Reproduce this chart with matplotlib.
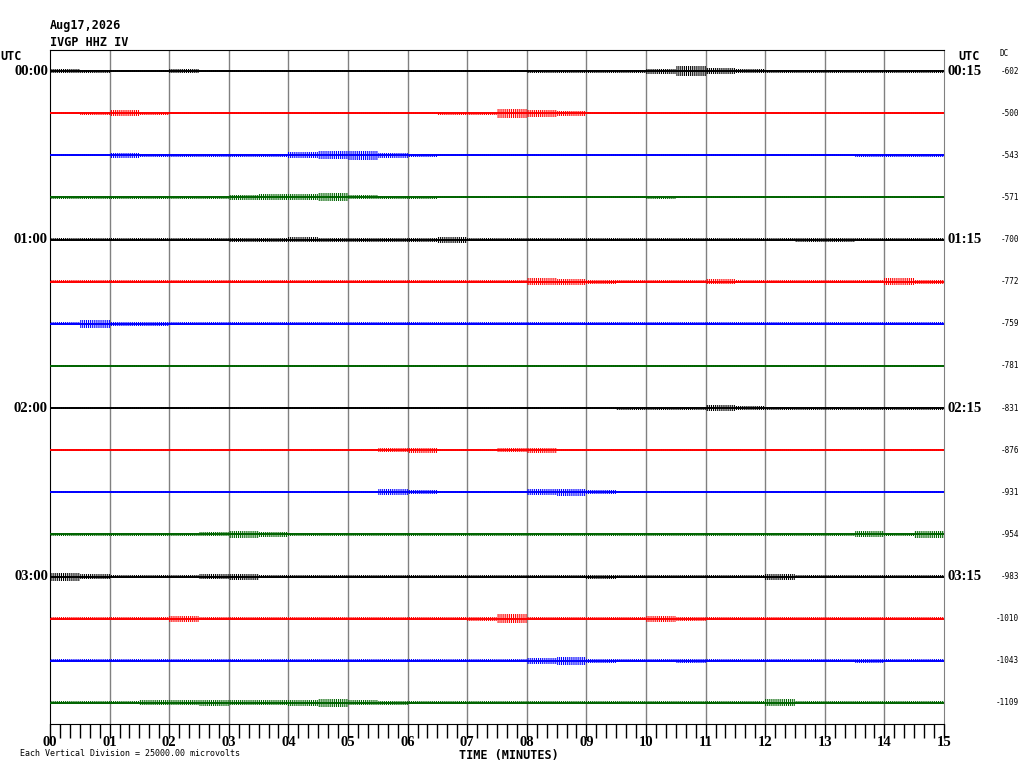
import numpy as np
from matplotlib import pyplot as plt

# station header
date_label = "Aug17,2026"
station_label = "IVGP HHZ IV"

# trace colours repeat every 4 lines (one hour = 4 x 15 min)
trace_colors = ["black", "red", "blue", "#006400"]

left_times = ["00:00", "01:00", "02:00", "03:00"]
right_times = ["00:15", "01:15", "02:15", "03:15"]

dc_values = [-602, -500, -543, -571, -700, -772, -759, -781,
             -831, -876, -931, -954, -983, -1010, -1043, -1109]

minute_labels = ["%02d" % m for m in range(16)]

# half-amplitude of each trace (pixels), one value per 30 s bin
env = [
    [2, 1.5, 1, 1, 2, 1, 1, 1, 1, 1, 1, 1, 1, 1, 1, 1, 1.5, 1.5, 1.5, 1.5, 2.5, 5, 3, 2, 1.5, 1.5, 1.5, 1.5, 1.5, 1.5],
    [1, 1.5, 3, 1.5, 1, 1, 1, 1, 1, 1, 1, 1, 1, 1.5, 1.5, 4.5, 3.5, 2.5, 1, 1, 1, 1, 1, 1, 1, 1, 1, 1, 1, 1],
    [1, 1, 2.5, 1.5, 1.5, 1.5, 1.5, 1.5, 3, 4, 4.5, 2.5, 1.5, 1, 1, 1, 1, 1, 1, 1, 1, 1, 1, 1, 1, 1, 1, 1.5, 1.5, 1.5],
    [1.5, 1.5, 1.5, 1.5, 1.5, 1.5, 2.5, 3, 3, 4, 2, 1.5, 1.5, 1, 1, 1, 1, 1, 1, 1, 1.5, 1, 1, 1, 1, 1, 1, 1, 1, 1],
    [1.5, 1.5, 1.5, 1.5, 1.5, 1.5, 2, 2, 2.5, 2, 2, 2, 2, 3, 1.5, 1.5, 1.5, 1.5, 1.5, 1.5, 1.5, 1.5, 1.5, 1.5, 1.5, 2, 2, 1.5, 1.5, 1.5],
    [1.5, 1.5, 1.5, 1.5, 1.5, 1.5, 1.5, 1.5, 1.5, 1.5, 1.5, 1.5, 1.5, 1.5, 1.5, 1.5, 3.5, 3, 2, 1.5, 1.5, 1.5, 2.5, 1.5, 1.5, 1.5, 1.5, 1.5, 3.5, 2],
    [1.5, 4, 2, 2, 1.5, 1.5, 1.5, 1.5, 1.5, 1.5, 1.5, 1.5, 1.5, 1.5, 1.5, 1.5, 1.5, 1.5, 1.5, 1.5, 1.5, 1.5, 1.5, 1.5, 1.5, 1.5, 1.5, 1.5, 1.5, 1.5],
    [1, 1, 1, 1, 1, 1, 1, 1, 1, 1, 1, 1, 1, 1, 1, 1, 1, 1, 1, 1, 1, 1, 1, 1, 1, 1, 1, 1, 1, 1],
    [1, 1, 1, 1, 1, 1, 1, 1, 1, 1, 1, 1, 1, 1, 1, 1, 1, 1, 1, 1.5, 1.5, 1.5, 3, 2, 1.5, 1.5, 1.5, 1.5, 1.5, 1.5],
    [1, 1, 1, 1, 1, 1, 1, 1, 1, 1, 1, 2, 2.5, 1, 1, 2, 2.5, 1, 1, 1, 1, 1, 1, 1, 1, 1, 1, 1, 1, 1],
    [1, 1, 1, 1, 1, 1, 1, 1, 1, 1, 1, 3, 2, 1, 1, 1, 3, 3.5, 2, 1, 1, 1, 1, 1, 1, 1, 1, 1, 1, 1],
    [1.5, 1.5, 1.5, 1.5, 1.5, 2, 3.5, 2.5, 1.5, 1.5, 1.5, 1.5, 1.5, 1.5, 1.5, 1.5, 1.5, 1.5, 1.5, 1.5, 1.5, 1.5, 1.5, 1.5, 1.5, 1.5, 1.5, 3, 1.5, 3.5],
    [4, 2.5, 1.5, 1.5, 1.5, 2.5, 3, 1.5, 1.5, 1.5, 1.5, 1.5, 1.5, 1.5, 1.5, 1.5, 1.5, 1.5, 2, 1.5, 1.5, 1.5, 1.5, 1.5, 3, 1.5, 1.5, 1.5, 1.5, 1.5],
    [1.5, 1.5, 1.5, 1.5, 3, 1.5, 1.5, 1.5, 1.5, 1.5, 1.5, 1.5, 1.5, 1.5, 2, 4.5, 1.5, 1.5, 1.5, 1.5, 3, 2, 1.5, 1.5, 1.5, 1.5, 1.5, 1.5, 1.5, 1.5],
    [1.5, 1.5, 1.5, 1.5, 1.5, 1.5, 1.5, 1.5, 1.5, 1.5, 1.5, 1.5, 1.5, 1.5, 1.5, 1.5, 3, 4, 2, 1.5, 1.5, 2, 1.5, 1.5, 1.5, 1.5, 1.5, 2, 1.5, 1.5],
    [1.5, 1.5, 1.5, 2.5, 2.5, 3, 2.5, 2.5, 3, 4, 2.5, 2, 1.5, 1.5, 1.5, 1.5, 1.5, 1.5, 1.5, 1.5, 1.5, 1.5, 1.5, 1.5, 3.5, 1.5, 1.5, 1.5, 1.5, 1.5],
]

W, H = 1024, 768
ax_l, ax_r, ax_t, ax_b = 50, 944, 50, 724
px_per_trace = (ax_b - ax_t) / 16.0

mono = "DejaVu Sans Mono"
serif = "Liberation Serif"

plt.rcParams["hatch.linewidth"] = 0.8

fig = plt.figure(figsize=(W / 100, H / 100), dpi=100)
ax = fig.add_axes([ax_l / W, 1 - ax_b / H, (ax_r - ax_l) / W, (ax_b - ax_t) / H])
ax.set_xlim(0, 15)
ax.set_ylim(15.5, -0.5)

def ftext(x, y, s, **kw):
    fig.text(x / W, 1 - y / H, s, **kw)

# minute grid
for m in range(1, 15):
    ax.axvline(m, color="#808080", lw=1, zorder=1)

# traces: base line plus a hatched envelope for the wiggles
edges = np.arange(31) * 0.5
for i, amps in enumerate(env):
    col = trace_colors[i % 4]
    a = np.array(amps + [amps[-1]]) / px_per_trace
    ax.fill_between(edges, i - a, i + a, step="post", facecolor="none",
                    edgecolor=col, hatch="||||||||", lw=0, zorder=2)
    ax.hlines(i, 0, 15, color=col, lw=1.4, zorder=3)

# frame
ax.spines["right"].set_color("#808080")
for side in ["left", "top", "bottom"]:
    ax.spines[side].set_color("black")
ax.set_yticks([])
ax.set_xticks(range(16))
ax.set_xticks(np.arange(0, 15.01, 1 / 6.0), minor=True)
ax.set_xticklabels(minute_labels, fontfamily=serif, fontweight="bold", fontsize=10.5)
ax.tick_params(axis="x", which="both", direction="out", length=10, width=1, color="black", pad=-1)

# header
ftext(50, 26, date_label, family=mono, weight="bold", fontsize=8.5, va="center")
ftext(50, 42, station_label, family=mono, weight="bold", fontsize=8.5, va="center")
ftext(0, 57, "UTC", family=mono, weight="bold", fontsize=8.5, va="center")
ftext(958, 57, "UTC", family=mono, weight="bold", fontsize=8.5, va="center")
ftext(1000, 53, "DC", family=mono, fontsize=5.5, va="center")

for k in range(4):
    y = ax_t + (4 * k + 0.5) * px_per_trace
    ftext(48, y, left_times[k], family=serif, weight="bold", fontsize=10.5, ha="right", va="center")
    ftext(948, y, right_times[k], family=serif, weight="bold", fontsize=10.5, ha="left", va="center")

for i, dc in enumerate(dc_values):
    y = ax_t + (i + 0.5) * px_per_trace
    ftext(1019, y, str(dc), family=mono, fontsize=5.5, ha="right", va="center")

ftext(509, 756, "TIME (MINUTES)", family=mono, weight="bold", fontsize=8.5, ha="center", va="center")
ftext(20, 754, "Each Vertical Division = 25000.00 microvolts", family=mono, fontsize=6, va="center")

fig.savefig("out.png", dpi=100)
